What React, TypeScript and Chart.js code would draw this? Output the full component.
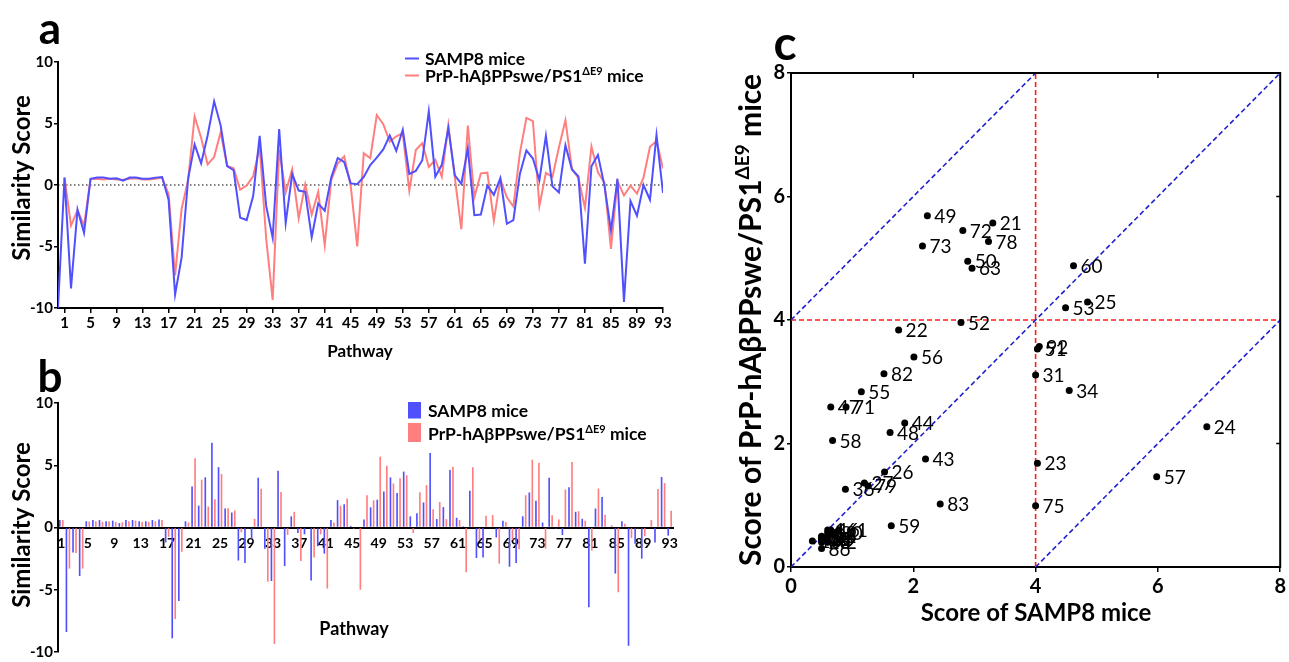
import React, { useEffect, useRef } from 'react';
import { Chart, registerables } from 'chart.js';

Chart.register(...registerables);
Chart.defaults.font.family = 'Lato';
Chart.defaults.color = '#000';

// ---------- data ----------
const pathways = Array.from({ length: 93 }, (_, i) => i + 1);

// similarity scores per pathway (1..93)
const samp8 = [
  0.6, -8.4, -2.0, -3.9, 0.5, 0.6, 0.6, 0.5, 0.55, 0.35,
  0.6, 0.6, 0.5, 0.5, 0.6, 0.65, -1.2, -8.9, -5.9, 0.5,
  3.3, 1.76, 4.03, 6.8, 4.85, 1.53, 1.2, -2.65, -2.85, -0.9,
  4.0, -1.7, -4.3, 4.55, -3.1, 0.89, -0.45, -0.55, -4.25, -1.5,
  -2.1, 0.6, 2.2, 1.86, 0.13, 0.06, 0.65, 1.62, 2.23, 2.89,
  4.03, 2.78, 4.49, 0.9, 1.15, 2.01, 5.98, 0.68, 1.64, 4.62,
  0.78, 0.1, 2.96, -2.45, -2.4, -0.05, -0.8, 0.55, -3.15, -2.85,
  0.9, 2.81, 2.15, 0.4, 4.0, -0.1, -0.6, 3.23, 1.26, 0.7,
  -6.4, 1.52, 2.44, -0.05, -3.7, 0.5, -9.5, -1.3, -2.5, 0.0,
  -1.2, 4.06, -0.65,
];
const prp = [
  0.6, -3.3, -2.05, -3.3, 0.48, 0.5, 0.45, 0.5, 0.45, 0.42,
  0.5, 0.55, 0.45, 0.45, 0.5, 0.6, -0.75, -7.35, -1.95, 0.4,
  5.57, 3.84, 1.68, 2.27, 4.29, 1.54, 1.36, -0.38, -0.05, 0.7,
  3.11, -4.35, -9.35, 2.86, -0.6, 1.26, -2.7, 0.05, -2.4, -0.55,
  -4.9, 0.4, 1.75, 2.33, -0.1, -5.0, 2.59, 2.18, 5.69, 4.95,
  3.53, 3.96, 4.2, -0.45, 2.84, 3.4, 1.46, 2.05, 0.67, 4.88,
  0.6, -3.6, 4.84, -1.0, 0.95, 1.0, -2.9, 0.45, -1.0, -1.75,
  2.59, 5.45, 5.2, -1.7, 0.99, 0.65, 3.05, 5.27, 1.31, 0.55,
  -1.85, 3.13, 1.02, 0.18, -5.2, 0.3, -0.85, -0.05, -0.7, 0.6,
  3.1, 3.57, 1.35,
];
// panel a: the SAMP8 line starts from pathway 0
const samp8LeadIn = { pathway: 0, value: -10 };

const xTicksA = [1, 5, 9, 13, 17, 21, 25, 29, 33, 37, 41, 45, 49, 53, 57, 61, 65, 69, 73, 77, 81, 85, 89, 93];
const yTicksAB = [-10, -5, 0, 5, 10];
const ticksC = [0, 2, 4, 6, 8];
const frameTicksC = [2, 6];
// panel c reference lines [x1, y1, x2, y2]
const diagonalLines = [[0, 4, 4, 8], [0, 0, 8, 8], [4, 0, 8, 4]];
const cutoffLines = [[4, 0, 4, 8], [0, 4, 8, 4]];

const seriesNames = ['SAMP8 mice', 'PrP-hAβPPswe/PS1ΔE9 mice'];

// ---------- styles ----------
const BLUE = '#5050ff';
const RED = '#ff7e7e';
const DASH_BLUE = '#2020d0';
const DASH_RED = '#ff1a1a';

type Seg = { t: string; sup?: boolean };
const prpSegs: Seg[] = [{ t: 'PrP-hAβPPswe/PS1' }, { t: 'ΔE9', sup: true }, { t: ' mice' }];

function drawRich(ctx: CanvasRenderingContext2D, segs: Seg[], x: number, y: number, size: number,
  weight: string, rotation = 0, align: 'left' | 'center' = 'left') {
  ctx.save();
  ctx.translate(x, y);
  if (rotation) ctx.rotate(rotation);
  const main = `${weight} ${size}px Lato`;
  const sup = `${weight} ${Math.round(size * 0.62)}px Lato`;
  let total = 0;
  for (const s of segs) { ctx.font = s.sup ? sup : main; total += ctx.measureText(s.t).width; }
  let cx = align === 'center' ? -total / 2 : 0;
  ctx.fillStyle = '#000';
  ctx.textBaseline = 'middle';
  ctx.textAlign = 'left';
  for (const s of segs) {
    ctx.font = s.sup ? sup : main;
    ctx.fillText(s.t, cx, s.sup ? -size * 0.26 : 0);
    cx += ctx.measureText(s.t).width;
  }
  ctx.restore();
}

const tickFont = (size: number) => ({ family: 'Lato', size, weight: 'bold' as const });

function axisStyle(tickLen: number) {
  return {
    grid: { drawOnChartArea: false, drawTicks: true, tickLength: tickLen, color: '#000', lineWidth: 1.5 },
    border: { display: true, color: '#000', width: 2 },
  };
}

export default function App() {
  const refA = useRef<HTMLCanvasElement>(null);
  const refB = useRef<HTMLCanvasElement>(null);
  const refC = useRef<HTMLCanvasElement>(null);

  useEffect(() => {
    // ---------- panel a ----------
    const overlayA = {
      id: 'overlayA',
      afterDraw(chart: any) {
        const ctx = chart.ctx as CanvasRenderingContext2D;
        drawRich(ctx, [{ t: 'a' }], 50, 30, 44, 'bold', 0, 'center');
        drawRich(ctx, [{ t: 'Similarity Score' }], 22, 178, 24, 'bold', -Math.PI / 2, 'center');
        drawRich(ctx, [{ t: 'Pathway' }], 360, 352, 17, 'bold', 0, 'center');
        ctx.save();
        ctx.lineWidth = 2;
        ctx.strokeStyle = BLUE;
        ctx.beginPath(); ctx.moveTo(405, 58.5); ctx.lineTo(419, 58.5); ctx.stroke();
        ctx.strokeStyle = RED;
        ctx.beginPath(); ctx.moveTo(405, 75.5); ctx.lineTo(419, 75.5); ctx.stroke();
        ctx.restore();
        drawRich(ctx, [{ t: seriesNames[0] }], 425, 59, 17.5, 'bold');
        drawRich(ctx, prpSegs, 425, 76, 17.5, 'bold');
      },
    };
    const chartA = new Chart(refA.current!, {
      type: 'line',
      data: {
        datasets: [
          {
            label: seriesNames[0],
            data: [{ x: samp8LeadIn.pathway, y: samp8LeadIn.value }, ...pathways.map((p, i) => ({ x: p, y: samp8[i] }))],
            borderColor: BLUE, borderWidth: 2, pointRadius: 0, tension: 0, order: 0,
          },
          {
            label: seriesNames[1],
            data: pathways.map((p, i) => ({ x: p, y: prp[i] })),
            borderColor: RED, borderWidth: 2, pointRadius: 0, tension: 0, order: 0,
          },
          {
            label: 'zero',
            data: [{ x: 0, y: 0 }, { x: 93, y: 0 }],
            borderColor: '#000', borderWidth: 1, borderDash: [1.5, 2.5], pointRadius: 0, order: 1,
          },
        ],
      },
      options: {
        responsive: false,
        animation: false,
        layout: { padding: { left: 0, right: 37, top: 62, bottom: 12 } },
        plugins: { legend: { display: false }, tooltip: { enabled: false } },
        scales: {
          x: {
            type: 'linear', min: 0, max: 93,
            afterBuildTicks: (s: any) => { s.ticks = xTicksA.map((v) => ({ value: v })); },
            afterFit: (s: any) => { s.height = 60; },
            ...axisStyle(5),
            ticks: { autoSkip: false, maxRotation: 0, padding: 1, color: '#000', font: tickFont(15) },
          },
          y: {
            min: -10, max: 10,
            afterBuildTicks: (s: any) => { s.ticks = yTicksAB.map((v) => ({ value: v })); },
            afterFit: (s: any) => { s.width = 58; },
            ...axisStyle(4),
            ticks: { padding: 1, color: '#000', font: tickFont(15) },
          },
        },
      } as any,
      plugins: [overlayA],
    });

    // ---------- panel b ----------
    const overlayB = {
      id: 'overlayB',
      afterDraw(chart: any) {
        const ctx = chart.ctx as CanvasRenderingContext2D;
        drawRich(ctx, [{ t: 'b' }], 50, 38, 44, 'bold', 0, 'center');
        drawRich(ctx, [{ t: 'Similarity Score' }], 22, 185, 24, 'bold', -Math.PI / 2, 'center');
        drawRich(ctx, [{ t: 'Pathway' }], 354, 289, 18, 'bold', 0, 'center');
        ctx.save();
        ctx.fillStyle = BLUE; ctx.fillRect(408, 62, 13, 16.5);
        ctx.fillStyle = RED; ctx.fillRect(408, 83, 13, 19);
        ctx.restore();
        drawRich(ctx, [{ t: seriesNames[0] }], 428, 71, 17.5, 'bold');
        drawRich(ctx, prpSegs, 428, 94, 17.5, 'bold');
      },
    };
    const chartB = new Chart(refB.current!, {
      type: 'bar',
      data: {
        labels: pathways.map(String),
        datasets: [
          { label: seriesNames[0], data: samp8, backgroundColor: BLUE, barPercentage: 0.55, categoryPercentage: 0.9 },
          { label: seriesNames[1], data: prp, backgroundColor: RED, barPercentage: 0.55, categoryPercentage: 0.9 },
        ],
      },
      options: {
        responsive: false,
        animation: false,
        layout: { padding: { left: 0, right: 27, top: 63, bottom: 9 } },
        plugins: { legend: { display: false }, tooltip: { enabled: false } },
        scales: {
          x: {
            axis: 'x',
            position: { y: 0 },
            grid: { display: false, drawTicks: false },
            border: { display: true, color: '#000', width: 2 },
            ticks: {
              autoSkip: false, maxRotation: 0, padding: 8, color: '#000', font: tickFont(14),
              callback: (_v: any, i: number) => (xTicksA.includes(pathways[i]) ? String(pathways[i]) : null),
            },
          },
          y: {
            min: -10, max: 10,
            afterBuildTicks: (s: any) => { s.ticks = yTicksAB.map((v) => ({ value: v })); },
            afterFit: (s: any) => { s.width = 58; },
            ...axisStyle(4),
            ticks: { padding: 1, color: '#000', font: tickFont(15) },
          },
        },
      } as any,
      plugins: [overlayB],
    });

    // ---------- panel c ----------
    const scatterIdx = pathways.map((_, i) => i).filter((i) => samp8[i] > 0 && prp[i] > 0);
    const scatterPts = scatterIdx.map((i) => ({ x: samp8[i], y: prp[i] }));
    const scatterLabels = scatterIdx.map((i) => String(pathways[i]));

    const lineDs = (l: number[], color: string) => ({
      type: 'scatter' as const,
      data: [{ x: l[0], y: l[1] }, { x: l[2], y: l[3] }],
      showLine: true, borderColor: color, borderWidth: 1.6, borderDash: [5, 3],
      pointRadius: 0, order: 2,
    });

    const overlayC = {
      id: 'overlayC',
      afterDraw(chart: any) {
        const ctx = chart.ctx as CanvasRenderingContext2D;
        const { left, right, top, bottom } = chart.chartArea;
        const xs = chart.scales.x;
        const ys = chart.scales.y;
        ctx.save();
        ctx.strokeStyle = '#000';
        ctx.lineWidth = 2;
        ctx.beginPath();
        ctx.moveTo(left - 1, top); ctx.lineTo(right, top); ctx.lineTo(right, bottom + 1);
        ctx.stroke();
        ctx.lineWidth = 1.5;
        for (const v of frameTicksC) {
          const px = xs.getPixelForValue(v);
          ctx.beginPath(); ctx.moveTo(px, top); ctx.lineTo(px, top + 5); ctx.stroke();
          const py = ys.getPixelForValue(v);
          ctx.beginPath(); ctx.moveTo(right, py); ctx.lineTo(right - 4, py); ctx.stroke();
        }
        ctx.restore();
        // point labels
        const meta = chart.getDatasetMeta(0);
        ctx.save();
        ctx.fillStyle = '#000';
        ctx.font = 'normal 19px Lato';
        ctx.textBaseline = 'middle';
        ctx.textAlign = 'left';
        meta.data.forEach((el: any, i: number) => {
          ctx.fillText(scatterLabels[i], el.x + 7, el.y + 1);
        });
        ctx.restore();
        drawRich(ctx, [{ t: 'c' }], 65, 45, 48, 'bold', 0, 'center');
        drawRich(ctx, [{ t: 'Score of SAMP8 mice' }], 316, 613, 24, 'bold', 0, 'center');
        drawRich(ctx, [{ t: 'Score of ' }, ...prpSegs], 31, 320, 30, 'bold', -Math.PI / 2, 'center');
      },
    };

    const chartC = new Chart(refC.current!, {
      type: 'scatter',
      data: {
        datasets: [
          {
            label: 'pathways', data: scatterPts, pointRadius: 3.5, pointBackgroundColor: '#000',
            pointBorderWidth: 0, order: 1,
          },
          ...diagonalLines.map((l) => lineDs(l, DASH_BLUE)),
          ...cutoffLines.map((l) => lineDs(l, DASH_RED)),
        ],
      },
      options: {
        responsive: false,
        animation: false,
        layout: { padding: { left: 0, right: 7, top: 73, bottom: 35 } },
        plugins: { legend: { display: false }, tooltip: { enabled: false } },
        scales: {
          x: {
            type: 'linear', min: 0, max: 8,
            afterBuildTicks: (s: any) => { s.ticks = ticksC.map((v) => ({ value: v })); },
            afterFit: (s: any) => { s.height = 60; },
            ...axisStyle(5),
            ticks: { padding: 3, color: '#000', font: tickFont(20) },
          },
          y: {
            type: 'linear', min: 0, max: 8,
            afterBuildTicks: (s: any) => { s.ticks = ticksC.map((v) => ({ value: v })); },
            afterFit: (s: any) => { s.width = 71; },
            ...axisStyle(4),
            ticks: { padding: 2, color: '#000', font: tickFont(20) },
          },
        },
      } as any,
      plugins: [overlayC],
    });

    return () => { chartA.destroy(); chartB.destroy(); chartC.destroy(); };
  }, []);

  const abs = (left: number, top: number, w: number, h: number): React.CSSProperties => ({
    position: 'absolute', left, top, width: w, height: h,
  });

  return (
    <div style={{ position: 'absolute', left: 0, top: 0, width: 1289, height: 662, background: '#fff', overflow: 'hidden' }}>
      <canvas ref={refA} width={700} height={380} style={abs(0, 0, 700, 380)} />
      <canvas ref={refB} width={700} height={322} style={abs(0, 340, 700, 322)} />
      <canvas ref={refC} width={569} height={662} style={abs(720, 0, 569, 662)} />
    </div>
  );
}
